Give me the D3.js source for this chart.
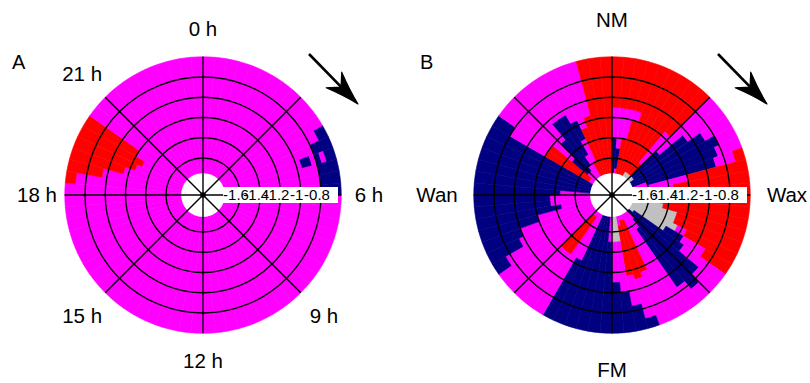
<!DOCTYPE html>
<html>
<head>
<meta charset="utf-8">
<script src="https://cdn.jsdelivr.net/npm/d3@7"></script>
<style>
  body { margin: 0; background: #fff; }
  svg { display: block; }
  text { font-family: "Liberation Sans", Arial, sans-serif; fill: #000; }
</style>
</head>
<body>
<svg id="chart" width="810" height="383"></svg>
<script>
// Radial axis (log scale values) and angular labels
const radialTicks = [-1.6, -1.4, -1.2, -1, -0.8];
const radialTickLabels = ["-1.6", "-1.4", "-1.2", "-1", "-0.8"];
const radialStart = -1.75;      // inner edge of the first radial bin
const radialBinWidth = 0.05;    // width of one radial bin
const angleBinDeg = 5;          // width of one angular bin (72 bins)
const hourLabels = ["0 h", "", "6 h", "9 h", "12 h", "15 h", "18 h", "21 h"];
const phaseLabels = ["NM", "", "Wax", "", "FM", "", "Wan", ""];

// Class of each cell: one run-length string per angular bin (clockwise from top),
// runs go from the innermost radial bin outwards.
// M = no change, R = increase, N = decrease, G = no data
const cellsA = [
  "M23","M23","M23","M23","M23","M23","M23","M23","M23","M23","M23","M23",
  "M21N2","M19N4","M16N2M1N1M1N2","M19N4","M19N4","M19N4",
  "M23","M23","M23","M23","M23","M23","M23","M23","M23","M23","M23","M23",
  "M23","M23","M23","M23","M23","M23","M23","M23","M23","M23","M23","M23",
  "M23","M23","M23","M23","M23","M23","M23","M23","M23","M23","M23","M23",
  "M23","M21R2","M16R7","M12R11","M10R13","M9R14","M11R12",
  "M23","M23","M23","M23","M23","M23","M23","M23","M23","M23","M23"
];
const cellsB = [
  "N7M6R10","M1N4M8R10","R7M6R10","R11M2R10","R23","R23","G1R22","G1R22","G1R3M8R11",
  "G1N7M15","G1N13M9","N17M6","N19M4","N18M5","M3N14M4R2","M11R12","M8R15","M7R16",
  "M5R18","G3R20","G6R17","G9R14","G9R14","G10M2R11","G8N4M5R6","G1N12M10","N18M5",
  "M2N18M3","M4N14M5","M23","M23","M1R11M11","M1R12M8N2","M2R10M6N5","G5M10N8","G5M8N10",
  "M5N18","N23","N23","N23","N23","M10N13","M23","M1R9M13","M1R9M13",
  "M23","M23","M20N3","M16N7","M15N8","M11N12","M6N17","M8N15","M8N15",
  "M6N17","N23","N23","N23","N23","N23","M1R10M8N4","M1R10M12","M2N4M17",
  "M2N8M13","M3N11M9","M5N9M9","R3M5N4M11","R10M13","R12M11","R23","R23","R23"
];
const palette = { M: "#ff00ff", R: "#ff0000", N: "#000080", G: "#c0c0c0" };

const svg = d3.select("#chart");

// radius scale shared by both panels
const r = d3.scaleLinear().domain([-1.6, -0.8]).range([37, 118]);
const nRadial = 23;
const rOuter = r(radialStart + nRadial * radialBinWidth);
const rInner = r(radialStart);

function decodeRuns(s) {
  const out = [];
  s.replace(/([MRNG])(\d+)/g, (m, c, n) => { for (let i = 0; i < +n; i++) out.push(c); });
  return out;
}

function drawPanel(cx, cy, cells, labels, labelRadius, panelLetter, letterX) {
  const g = svg.append("g").attr("transform", `translate(${cx},${cy})`);
  const arc = d3.arc();
  const toRad = Math.PI / 180;

  // heat cells, merged into radial runs of equal class
  cells.forEach((row, j) => {
    const cls = decodeRuns(row);
    const a0 = j * angleBinDeg * toRad, a1 = (j + 1) * angleBinDeg * toRad;
    let k = 0;
    while (k < cls.length) {
      let e = k;
      while (e + 1 < cls.length && cls[e + 1] === cls[k]) e++;
      const col = palette[cls[k]];
      g.append("path")
        .attr("d", arc({
          innerRadius: r(radialStart + k * radialBinWidth),
          outerRadius: r(radialStart + (e + 1) * radialBinWidth),
          startAngle: a0, endAngle: a1
        }))
        .attr("fill", col).attr("stroke", col).attr("stroke-width", 0.6);
      k = e + 1;
    }
  });

  // central hole
  g.append("circle").attr("r", rInner).attr("fill", "#fff");

  // rings
  g.selectAll("circle.ring").data(radialTicks).enter().append("circle")
    .attr("class", "ring").attr("r", d => r(d))
    .attr("fill", "none").attr("stroke", "#000").attr("stroke-width", 1.4);

  // spokes every 45 degrees
  d3.range(8).forEach(i => {
    const a = i * 45 * toRad;
    g.append("line")
      .attr("x1", 0).attr("y1", 0)
      .attr("x2", rOuter * Math.sin(a)).attr("y2", -rOuter * Math.cos(a))
      .attr("stroke", "#000").attr("stroke-width", 1.4);
  });
  g.append("circle").attr("r", 2.8).attr("fill", "#000");

  // radial tick labels on a white box along the 90 degree direction
  g.append("rect").attr("x", 20).attr("y", -8).attr("width", 115).attr("height", 16).attr("fill", "#fff");
  radialTicks.forEach((v, i) => {
    g.append("text").attr("x", r(v) - 4).attr("y", 0).attr("dy", "0.36em")
      .attr("text-anchor", "middle").style("font-size", "15px")
      .text(radialTickLabels[i]);
  });

  // angular labels
  labels.forEach((t, i) => {
    if (!t) return;
    const a = i * 45 * toRad;
    const rr = (i % 2 === 0) ? labelRadius : labelRadius + 5;
    g.append("text")
      .attr("x", rr * Math.sin(a)).attr("y", -rr * Math.cos(a)).attr("dy", "0.36em")
      .attr("text-anchor", "middle").style("font-size", "20.5px").text(t);
  });

  // direction arrow (clockwise)
  const start = [106, -141], tip = [155, -91];
  const ux = Math.SQRT1_2, uy = Math.SQRT1_2;
  g.append("line").attr("x1", start[0]).attr("y1", start[1])
    .attr("x2", tip[0] - 16 * ux).attr("y2", tip[1] - 16 * uy)
    .attr("stroke", "#000").attr("stroke-width", 2.6);
  const base = [tip[0] - 34 * ux, tip[1] - 34 * uy];
  const b1 = [base[0] + 11 * uy, base[1] - 11 * ux];
  const b2 = [base[0] - 11 * uy, base[1] + 11 * ux];
  const notch = [tip[0] - 24 * ux, tip[1] - 24 * uy];
  const c1 = [tip[0] - 15 * ux + 3.5 * uy, tip[1] - 15 * uy - 3.5 * ux];
  const c2 = [tip[0] - 15 * ux - 3.5 * uy, tip[1] - 15 * uy + 3.5 * ux];
  g.append("path")
    .attr("d", `M${notch}L${b1}Q${c1} ${tip}Q${c2} ${b2}Z`)
    .attr("fill", "#000").attr("stroke", "#000").attr("stroke-width", 1.2)
    .attr("stroke-linejoin", "round");

  svg.append("text").attr("x", letterX).attr("y", 69)
    .style("font-size", "20px").text(panelLetter);
}

drawPanel(203, 195, cellsA, hourLabels, 166, "A", 12);
drawPanel(612, 195, cellsB, phaseLabels, 175, "B", 420);
</script>
</body>
</html>
